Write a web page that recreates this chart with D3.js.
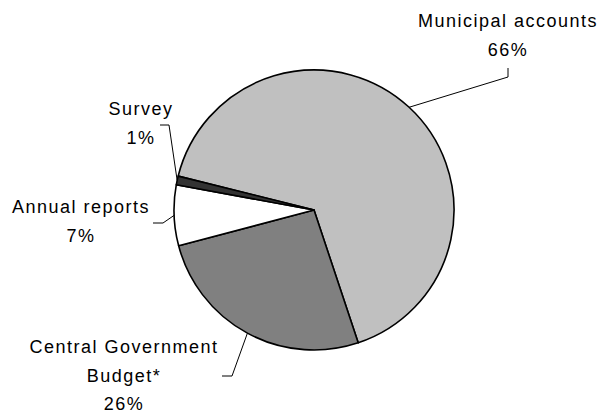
<!DOCTYPE html>
<html>
<head>
<meta charset="utf-8">
<script src="https://cdn.jsdelivr.net/npm/d3@7"></script>
<style>
  html, body { margin: 0; padding: 0; background: #fff; }
  svg { display: block; }
  text { font-family: "Liberation Sans", Arial, sans-serif; font-size: 18px; letter-spacing: 1.5px; fill: #000; }
</style>
</head>
<body>
<svg id="chart" width="600" height="414"></svg>
<script>
// data
const categories = ['Municipal accounts', 'Central Government Budget*', 'Annual reports', 'Survey'];
const shares = [66, 26, 7, 1];
const labelLines = [
  ['Municipal accounts', '66%'],
  ['Central Government', 'Budget*', '26%'],
  ['Annual reports', '7%'],
  ['Survey', '1%']
];
const fills = ['#c0c0c0', '#808080', '#ffffff', '#333333'];

// layout (label text centre x, first baseline y, elbow of the leader line)
const labelLayout = [
  {x: 508, y: 27, elbow: [[508, 68], [508, 77]]},
  {x: 124, y: 353, elbow: [[222, 376], [232, 376]]},
  {x: 81, y: 213, elbow: [[153, 223], [163, 223]]},
  {x: 141, y: 115, elbow: [[160, 125], [169, 125]]}
];

const cx = 314, cy = 210, r = 140;
const start = -76 * Math.PI / 180;

const svg = d3.select('#chart');
const g = svg.append('g').attr('transform', `translate(${cx},${cy})`);

const data = categories.map((c, i) => ({name: c, value: shares[i], i}));
const pie = d3.pie()
  .value(d => d.value)
  .sort(null)
  .startAngle(start)
  .endAngle(start + 2 * Math.PI);
const arcs = pie(data);

const arc = d3.arc().innerRadius(0).outerRadius(r);
const edge = d3.arc().innerRadius(r).outerRadius(r);

g.selectAll('path.slice')
  .data(arcs)
  .enter()
  .append('path')
  .attr('class', 'slice')
  .attr('d', arc)
  .attr('fill', d => fills[d.data.i])
  .attr('stroke', '#000')
  .attr('stroke-width', 1.6)
  .attr('stroke-linejoin', 'round');

// leader lines
const line = d3.line();
svg.selectAll('path.leader')
  .data(arcs)
  .enter()
  .append('path')
  .attr('class', 'leader')
  .attr('fill', 'none')
  .attr('stroke', '#000')
  .attr('stroke-width', 1)
  .attr('d', d => {
    const L = labelLayout[d.data.i];
    const p = edge.centroid(d);
    return line([...L.elbow, [p[0] + cx, p[1] + cy]]);
  });

// labels
const labels = svg.selectAll('text.lbl')
  .data(arcs)
  .enter()
  .append('text')
  .attr('class', 'lbl')
  .attr('text-anchor', 'middle');

labels.selectAll('tspan')
  .data(d => labelLines[d.data.i].map(t => ({t, L: labelLayout[d.data.i]})))
  .enter()
  .append('tspan')
  .attr('x', d => d.L.x)
  .attr('y', (d, k) => d.L.y + k * 28.5)
  .text(d => d.t);
</script>
</body>
</html>
